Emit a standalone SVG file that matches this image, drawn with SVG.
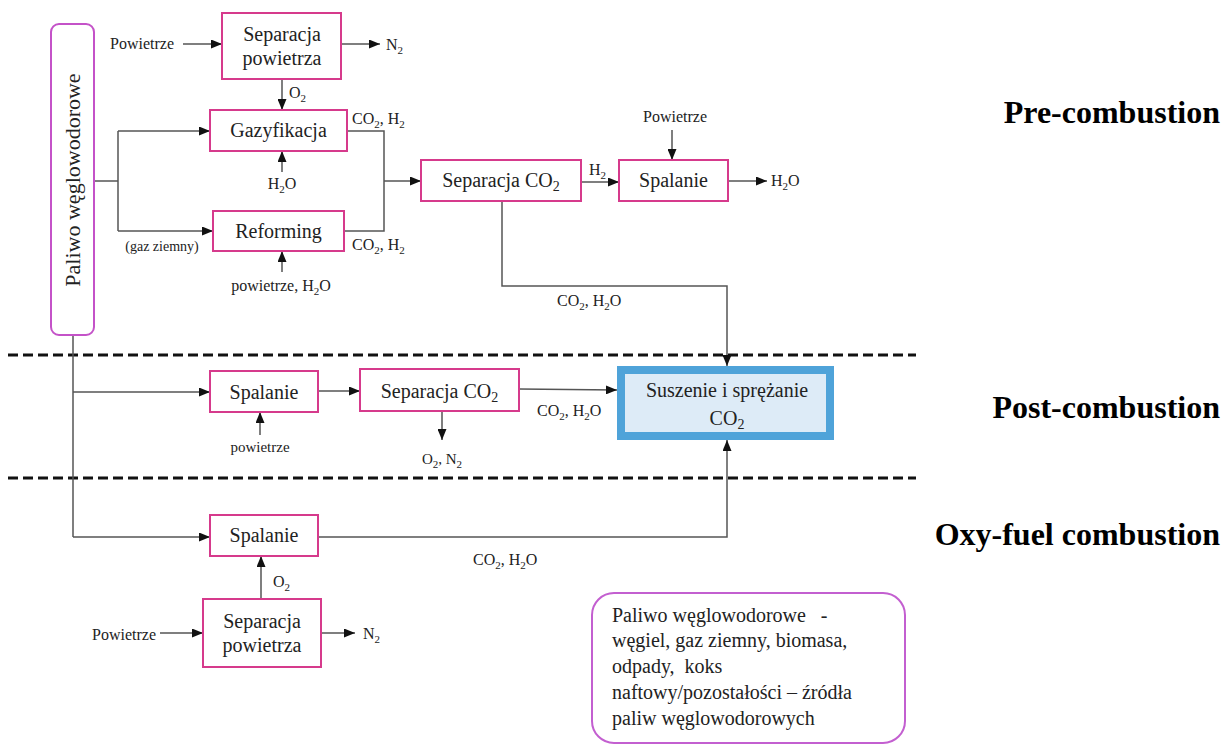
<svg xmlns="http://www.w3.org/2000/svg" width="1231" height="746" viewBox="0 0 1231 746">
<style>
text{font-family:"Liberation Serif","Times New Roman",serif;fill:#222}
.box{fill:#fff;stroke:#d63a8c;stroke-width:2}
.bt{font-size:20px;text-anchor:middle}
.lb{font-size:16px}
.lbc{font-size:16px;text-anchor:middle}
.sm{font-size:14px;text-anchor:middle}
.cn{fill:none;stroke:#555;stroke-width:1.5}
.ar{marker-end:url(#ah)}
.dash{stroke:#111;stroke-width:3;stroke-dasharray:10 5;fill:none}
.sec{font-size:32px;font-weight:bold;text-anchor:end;fill:#000}
.leg{font-size:20px}
</style>
<defs>
<marker id="ah" markerUnits="userSpaceOnUse" markerWidth="11" markerHeight="9" refX="11" refY="4.5" orient="auto">
<path d="M0,0 L11,4.5 L0,9 z" fill="#111"/>
</marker>
</defs>
<rect width="1231" height="746" fill="#fff"/>

<g id="separators">
<line class="dash" x1="8" y1="355" x2="916" y2="355"/>
<line class="dash" x1="8" y1="478" x2="916" y2="478"/>
</g>

<g id="connectors">
<line class="cn ar" x1="183" y1="44" x2="222" y2="44"/>
<line class="cn ar" x1="341" y1="44" x2="380" y2="44"/>
<line class="cn ar" x1="282" y1="79" x2="282" y2="110"/>
<line class="cn ar" x1="282" y1="172" x2="282" y2="151"/>
<line class="cn ar" x1="282" y1="272" x2="282" y2="251"/>
<polyline class="cn" points="94,181 118,181"/>
<line class="cn" x1="118" y1="131" x2="118" y2="231"/>
<line class="cn ar" x1="118" y1="131" x2="210" y2="131"/>
<line class="cn ar" x1="118" y1="231" x2="213" y2="231"/>
<polyline class="cn" points="347,131 384,131 384,231 344,231"/>
<line class="cn ar" x1="384" y1="181" x2="421" y2="181"/>
<line class="cn ar" x1="581" y1="182" x2="619" y2="182"/>
<line class="cn ar" x1="672" y1="130" x2="672" y2="160"/>
<line class="cn ar" x1="728" y1="181" x2="767" y2="181"/>
<polyline class="cn ar" points="502,201 502,286 727,286 727,366"/>
<line class="cn" x1="73" y1="335" x2="73" y2="537"/>
<line class="cn ar" x1="73" y1="392" x2="210" y2="392"/>
<line class="cn ar" x1="260" y1="435" x2="260" y2="412"/>
<line class="cn ar" x1="318" y1="391" x2="360" y2="391"/>
<line class="cn ar" x1="442" y1="411" x2="442" y2="440"/>
<line class="cn ar" x1="519" y1="389" x2="617" y2="390"/>
<line class="cn ar" x1="73" y1="537" x2="210" y2="537"/>
<polyline class="cn ar" points="318,537 727,537 727,440"/>
<line class="cn ar" x1="261" y1="599" x2="261" y2="556"/>
<line class="cn ar" x1="160" y1="633" x2="203" y2="633"/>
<line class="cn ar" x1="321" y1="633" x2="355" y2="633"/>
</g>

<g id="labels">
<text class="lb" x="110" y="49">Powietrze</text>
<text class="lb" x="386" y="50">N<tspan font-size="11" dy="4">2</tspan></text>
<text class="lb" x="289" y="98">O<tspan font-size="11" dy="4">2</tspan></text>
<text class="lbc" x="282" y="189">H<tspan font-size="11" dy="4">2</tspan><tspan dy="-4">O</tspan></text>
<text class="lbc" x="281" y="291">powietrze, H<tspan font-size="11" dy="4">2</tspan><tspan dy="-4">O</tspan></text>
<text class="sm" x="162" y="251">(gaz ziemny)</text>
<text class="lb" x="352" y="124">CO<tspan font-size="11" dy="4">2</tspan><tspan dy="-4">, H</tspan><tspan font-size="11" dy="4">2</tspan></text>
<text class="lb" x="352" y="250">CO<tspan font-size="11" dy="4">2</tspan><tspan dy="-4">, H</tspan><tspan font-size="11" dy="4">2</tspan></text>
<text class="lb" x="589" y="175">H<tspan font-size="11" dy="4">2</tspan></text>
<text class="lbc" x="675" y="122" font-size="15">Powietrze</text>
<text class="lb" x="771" y="186">H<tspan font-size="11" dy="4">2</tspan><tspan dy="-4">O</tspan></text>
<text class="lb" x="557" y="306">CO<tspan font-size="11" dy="4">2</tspan><tspan dy="-4">, H</tspan><tspan font-size="11" dy="4">2</tspan><tspan dy="-4">O</tspan></text>
<text class="lbc" x="260" y="452" style="font-size:15px">powietrze</text>
<text class="lbc" x="442" y="464" style="font-size:15px">O<tspan font-size="11" dy="4">2</tspan><tspan dy="-4">, N</tspan><tspan font-size="11" dy="4">2</tspan></text>
<text class="lb" x="537" y="416">CO<tspan font-size="11" dy="4">2</tspan><tspan dy="-4">, H</tspan><tspan font-size="11" dy="4">2</tspan><tspan dy="-4">O</tspan></text>
<text class="lb" x="473" y="565">CO<tspan font-size="11" dy="4">2</tspan><tspan dy="-4">, H</tspan><tspan font-size="11" dy="4">2</tspan><tspan dy="-4">O</tspan></text>
<text class="lb" x="273" y="587">O<tspan font-size="11" dy="4">2</tspan></text>
<text class="lb" x="92" y="640">Powietrze</text>
<text class="lb" x="363" y="639">N<tspan font-size="11" dy="4">2</tspan></text>
</g>

<g id="paliwo">
<rect x="51" y="24" width="43" height="311" rx="8" fill="#fff" stroke="#c452c8" stroke-width="2"/>
<text class="bt" x="80" y="180" font-size="22" transform="rotate(-90 80 180)" style="font-size:22px">Paliwo węglowodorowe</text>
</g>

<g id="separacja-powietrza-pre">
<rect class="box" x="222" y="13" width="119" height="66"/>
<text class="bt" x="282" y="41">Separacja</text>
<text class="bt" x="282" y="65">powietrza</text>
</g>

<g id="gazyfikacja">
<rect class="box" x="210" y="110" width="137" height="41"/>
<text class="bt" x="278.5" y="137">Gazyfikacja</text>
</g>

<g id="reforming">
<rect class="box" x="213" y="211" width="131" height="40"/>
<text class="bt" x="278.5" y="238">Reforming</text>
</g>

<g id="separacja-co2-pre">
<rect class="box" x="421" y="160" width="160" height="41"/>
<text class="bt" x="501" y="187">Separacja  CO<tspan font-size="14" dy="4">2</tspan></text>
</g>

<g id="spalanie-pre">
<rect class="box" x="619" y="160" width="109" height="41"/>
<text class="bt" x="673.5" y="187">Spalanie</text>
</g>

<g id="spalanie-post">
<rect class="box" x="210" y="371" width="108" height="41"/>
<text class="bt" x="264" y="399">Spalanie</text>
</g>

<g id="separacja-co2-post">
<rect class="box" x="360" y="369" width="159" height="42"/>
<text class="bt" x="439.5" y="398">Separacja  CO<tspan font-size="14" dy="4">2</tspan></text>
</g>

<g id="suszenie">
<rect x="621" y="370" width="209" height="66" fill="#ddebf7" stroke="#4fa3d9" stroke-width="8"/>
<text class="bt" x="727" y="397">Suszenie i sprężanie</text>
<text class="bt" x="727" y="425">CO<tspan font-size="14" dy="4">2</tspan></text>
</g>

<g id="spalanie-oxy">
<rect class="box" x="210" y="515" width="108" height="41"/>
<text class="bt" x="264" y="542">Spalanie</text>
</g>

<g id="separacja-powietrza-oxy">
<rect class="box" x="203" y="599" width="118" height="68"/>
<text class="bt" x="262" y="628">Separacja</text>
<text class="bt" x="262" y="652">powietrza</text>
</g>

<g id="sections">
<text class="sec" x="1220" y="123">Pre-combustion</text>
<text class="sec" x="1220" y="418">Post-combustion</text>
<text class="sec" x="1220" y="545">Oxy-fuel combustion</text>
</g>

<g id="legend">
<rect x="592" y="593" width="313" height="150" rx="22" fill="#fff" stroke="#c35fd0" stroke-width="2"/>
<text class="leg" x="612" y="622" xml:space="preserve">Paliwo węglowodorowe   -</text>
<text class="leg" x="612" y="647">węgiel, gaz ziemny, biomasa,</text>
<text class="leg" x="612" y="673" xml:space="preserve">odpady,  koks</text>
<text class="leg" x="612" y="699">naftowy/pozostałości – źródła</text>
<text class="leg" x="612" y="725">paliw węglowodorowych</text>
</g>
</svg>
